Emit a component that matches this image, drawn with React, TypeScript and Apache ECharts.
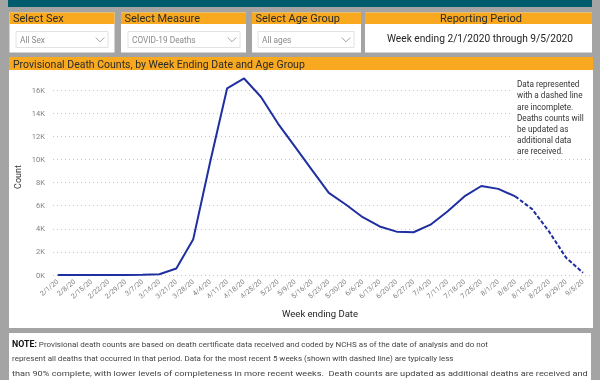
import React, { useEffect, useRef } from "react";
import * as echarts from "echarts";

const categories = [
  "2/1/20", "2/8/20", "2/15/20", "2/22/20", "2/29/20", "3/7/20", "3/14/20", "3/21/20",
  "3/28/20", "4/4/20", "4/11/20", "4/18/20", "4/25/20", "5/2/20", "5/9/20", "5/16/20",
  "5/23/20", "5/30/20", "6/6/20", "6/13/20", "6/20/20", "6/27/20", "7/4/20", "7/11/20",
  "7/18/20", "7/25/20", "8/1/20", "8/8/20", "8/15/20", "8/22/20", "8/29/20", "9/5/20",
];

const deaths = [
  0, 1, 0, 3, 5, 30, 60, 560,
  3100, 9800, 16150, 17000, 15400, 13100, 11100, 9100,
  7100, 6100, 5000, 4200, 3750, 3700, 4350, 5500,
  6800, 7700, 7450, 6800, 5700, 3750, 1500, 200,
];

// index of first point of the incomplete (dashed) part
const incompleteFrom = 27;

const yTicks = { min: 0, max: 18000, interval: 2000 };

const slicers = [
  { title: "Select Sex", value: "All Sex" },
  { title: "Select Measure", value: "COVID-19 Deaths" },
  { title: "Select Age Group", value: "All ages" },
];

const reportingTitle = "Reporting Period";
const reportingText = "Week ending 2/1/2020 through 9/5/2020";
const chartTitle = "Provisional Death Counts, by Week Ending Date and Age Group";
const annotation = [
  "Data represented",
  "with a dashed line",
  "are incomplete.",
  "Deaths counts will",
  "be updated as",
  "additional data",
  "are received.",
];
const noteLines = [
  "Provisional death counts are based on death certificate data received and coded by NCHS as of the date of analysis and do not",
  "represent all deaths that occurred in that period. Data for the most recent 5 weeks (shown with dashed line) are typically less",
  "than 90% complete, with lower levels of completeness in more recent weeks.  Death counts are updated as additional deaths are received and",
  "coded.",
];

const FONT = "Roboto, 'Noto Sans', sans-serif";
const ORANGE = "#F8A91F";
const GRAY = "#A4A4A4";
const TEAL = "#005C6D";
const LINE = "#1F2FA0";

export default function App() {
  const ref = useRef<HTMLDivElement>(null);

  useEffect(() => {
    if (!ref.current) return;
    const chart = echarts.init(ref.current, null, { renderer: "svg" });

    const solid = deaths.map((v, i) => (i <= incompleteFrom ? v : "-"));
    const dashed = deaths.map((v, i) => (i >= incompleteFrom ? v : "-"));

    const slicerBoxes = [
      { x: 9.5, w: 105, dd: [16, 92], chev: 100 },
      { x: 121, w: 125, dd: [128, 112], chev: 232 },
      { x: 252, w: 109, dd: [258, 96], chev: 346 },
    ];

    const graphics: any[] = [
      { type: "rect", z: -100, shape: { x: 0, y: 0, width: 600, height: 380 }, style: { fill: GRAY } },
      { type: "rect", z: -99, shape: { x: 8, y: 0, width: 584, height: 7 }, style: { fill: TEAL } },
    ];

    slicers.forEach((s, i) => {
      const b = slicerBoxes[i];
      graphics.push(
        { type: "rect", z: -99, shape: { x: b.x, y: 12.5, width: b.w, height: 40 }, style: { fill: "#fff" } },
        { type: "rect", z: -98, shape: { x: b.x, y: 12.5, width: b.w, height: 11.5 }, style: { fill: ORANGE } },
        {
          type: "text", z: 10, x: b.x + 3.5, y: 18.5,
          style: { text: s.title, fill: "#2b2b2b", fontSize: 11, fontFamily: FONT, verticalAlign: "middle" },
        },
        {
          type: "rect", z: -97, shape: { x: b.dd[0], y: 31.5, width: b.dd[1], height: 16 },
          style: { fill: "#fff", stroke: "#e2e2e2", lineWidth: 1 },
        },
        {
          type: "text", z: 10, x: b.dd[0] + 4, y: 40,
          style: { text: s.value, fill: "#8a8a8a", fontSize: 8.3, fontFamily: FONT, verticalAlign: "middle" },
        },
        {
          type: "polyline", z: 10,
          shape: { points: [[b.chev - 4.3, 37.5], [b.chev, 41.8], [b.chev + 4.3, 37.5]] },
          style: { stroke: "#8a8a8a", lineWidth: 0.8, fill: "none" },
        }
      );
    });

    graphics.push(
      { type: "rect", z: -99, shape: { x: 365, y: 12.5, width: 227, height: 40 }, style: { fill: "#fff" } },
      { type: "rect", z: -98, shape: { x: 365, y: 12.5, width: 227, height: 11.5 }, style: { fill: ORANGE } },
      {
        type: "text", z: 10, x: 481, y: 18.5,
        style: { text: reportingTitle, fill: "#2b2b2b", fontSize: 11, fontFamily: FONT, align: "center", verticalAlign: "middle" },
      },
      {
        type: "text", z: 10, x: 480, y: 38.5,
        style: { text: reportingText, fill: "#252525", fontSize: 10.2, fontFamily: FONT, align: "center", verticalAlign: "middle" },
      },
      // chart panel
      { type: "rect", z: -99, shape: { x: 9, y: 57, width: 584, height: 271 }, style: { fill: "#fff" } },
      { type: "rect", z: 100, shape: { x: 9, y: 57, width: 584, height: 13 }, style: { fill: ORANGE } },
      {
        type: "text", z: 101, x: 13, y: 64,
        style: { text: chartTitle, fill: "#2b2b2b", fontSize: 10.5, fontFamily: FONT, verticalAlign: "middle" },
      },
      // annotation
      { type: "rect", z: 50, shape: { x: 512, y: 77, width: 80, height: 80 }, style: { fill: "#fff" } },
      {
        type: "text", z: 51, x: 517, y: 78.5,
        style: {
          text: annotation.join("\n"), fill: "#333", fontSize: 8.2, fontFamily: FONT, lineHeight: 11.2,
          verticalAlign: "top",
        },
      },
      {
        type: "text", z: 10, x: 18, y: 177, rotation: Math.PI / 2,
        style: { text: "Count", fill: "#333", fontSize: 9, fontFamily: FONT, align: "center", verticalAlign: "middle" },
      },
      {
        type: "text", z: 10, x: 320, y: 313,
        style: { text: "Week ending Date", fill: "#222", fontSize: 9.5, fontFamily: FONT, align: "center", verticalAlign: "middle" },
      },
      // note panel
      { type: "rect", z: -99, shape: { x: 9, y: 333, width: 582, height: 60 }, style: { fill: "#fff" } },
      {
        type: "text", z: 10, x: 12, y: 344,
        style: {
          text: "{b|NOTE:} " + noteLines[0],
          fontSize: 8, fontFamily: FONT, fill: "#444", verticalAlign: "middle",
          rich: { b: { fontWeight: "bold", fill: "#111", fontSize: 8.8, fontFamily: FONT } },
        },
      },
      {
        type: "text", z: 10, x: 12, y: 358.8,
        style: { text: noteLines[1], fontSize: 8, fontFamily: FONT, fill: "#444", verticalAlign: "middle" },
      },
      {
        type: "text", z: 10, x: 12, y: 373.6, scaleX: 1.15,
        style: { text: noteLines[2], fontSize: 8, fontFamily: FONT, fill: "#444", verticalAlign: "middle" },
      },
      {
        type: "text", z: 10, x: 12, y: 388.4,
        style: { text: noteLines[3], fontSize: 8, fontFamily: FONT, fill: "#444", verticalAlign: "middle" },
      }
    );

    const top = 66.9;
    const height = 208.1;

    chart.setOption({
      animation: false,
      graphic: { elements: graphics },
      grid: [
        { left: 57.7, top, width: 525.3, height, containLabel: false },
        { left: 53, top, width: 537, height, containLabel: false },
      ],
      xAxis: [
        {
          type: "category", gridIndex: 0, data: categories, boundaryGap: false,
          axisLine: { show: false }, axisTick: { show: false },
          axisLabel: { rotate: 40, interval: 0, fontSize: 7, color: "#808080", fontFamily: FONT, margin: 6 },
        },
        { type: "value", gridIndex: 1, min: 0, max: 1, show: false },
      ],
      yAxis: [
        { type: "value", gridIndex: 0, ...yTicks, show: false, splitLine: { show: false } },
        {
          type: "value", gridIndex: 1, ...yTicks,
          axisLine: { show: false }, axisTick: { show: false },
          axisLabel: {
            formatter: (v: number) => `${v / 1000}K`, showMaxLabel: false,
            fontSize: 7.5, color: "#808080", fontFamily: FONT, margin: 8,
          },
          splitLine: { lineStyle: { type: [1, 3], color: "#c4c4c4", width: 1 } },
        },
      ],
      series: [
        {
          type: "line", xAxisIndex: 0, yAxisIndex: 0, data: solid, showSymbol: false, symbol: "none",
          lineStyle: { color: LINE, width: 2 }, z: 5,
        },
        {
          type: "line", xAxisIndex: 0, yAxisIndex: 0, data: dashed, showSymbol: false, symbol: "none",
          lineStyle: { color: LINE, width: 2, type: [4, 2] }, z: 5,
        },
      ],
    });

    return () => chart.dispose();
  }, []);

  return (
    <div
      ref={ref}
      style={{ position: "fixed", left: 0, top: 0, width: 600, height: 380 }}
    />
  );
}
